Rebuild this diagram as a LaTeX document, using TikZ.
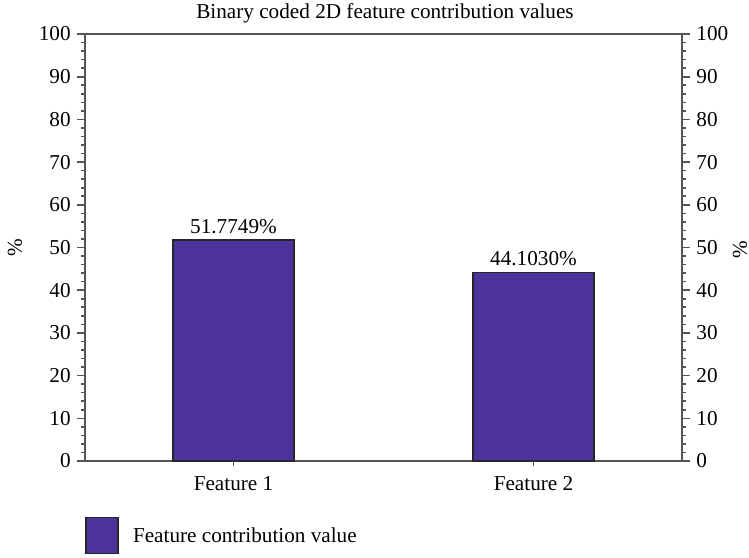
\documentclass[tikz,border=0pt]{standalone}
\usepackage{fontspec}
\setmainfont{Liberation Serif}
\usetikzlibrary{positioning}

\definecolor{barviolet}{RGB}{77,52,156}
\definecolor{axisgray}{RGB}{85,85,85}

\begin{document}
\begin{tikzpicture}[
		x=0.5pt,
		y=-0.5pt,
		axis/.style={draw=axisgray,line width=0.7pt},
		tickmark/.style={draw=axisgray,line width=0.8pt},
		bar/.style={draw=black!85,fill=barviolet,line width=0.6pt},
		lbl/.style={font=\fontsize{10.6}{12}\selectfont,inner sep=1pt}
	  ]
	\useasboundingbox (0,0) rectangle (749,557);

	% frame of the plot
	\coordinate (bl) at (85,461);
	\coordinate (tl) at (85,34);
	\coordinate (br) at (682,461);
	\coordinate (tr) at (682,34);
	\draw[axis] (tl) -- (bl) -- (br) -- (tr) -- cycle;

	% ticks and labels on both sides
	\foreach \v in {0,2,...,100} {
		\draw[tickmark] (85,{461-4.27*\v}) -- (81,{461-4.27*\v});
		\draw[tickmark] (682,{461-4.27*\v}) -- (686,{461-4.27*\v});
	}
	\foreach \v in {0,10,...,100} {
		\draw[tickmark] (85,{461-4.27*\v}) -- (77,{461-4.27*\v});
		\draw[tickmark] (682,{461-4.27*\v}) -- (690,{461-4.27*\v});
		\node[lbl,anchor=east] (yl\v) at (73,{461-4.27*\v}) {\v};
		\node[lbl,anchor=west] (yr\v) at (694,{461-4.27*\v}) {\v};
	}
	\node[lbl,rotate=90] (ylab) at (15,248) {\%};
	\node[lbl,rotate=90] (yrab) at (740,250) {\%};

	% bars
	\draw[bar] (173,461) rectangle (294,{461-4.27*51.7749});
	\draw[bar] (473,461) rectangle (594,{461-4.27*44.1030});
	\node[lbl,anchor=south] (v1) at (233.5,{457-4.27*51.7749}) {51.7749\%};
	\node[lbl,anchor=south] (v2) at (533.5,{457-4.27*44.1030}) {44.1030\%};

	% categories
	\draw[tickmark] (233.5,461) -- (233.5,466);
	\draw[tickmark] (533.5,461) -- (533.5,466);
	\node[lbl] (c1) at (233.5,484) {Feature 1};
	\node[lbl] (c2) at (533.5,484) {Feature 2};

	\node[lbl] (title) at (385,13) {Binary coded 2D feature contribution values};

	% legend
	\node[bar,minimum width=16pt,minimum height=18pt,inner sep=0pt] (key) at (102,535.5) {};
	\node[lbl,anchor=west,right=6pt of key] (keytxt) {Feature contribution value};
\end{tikzpicture}
\end{document}
